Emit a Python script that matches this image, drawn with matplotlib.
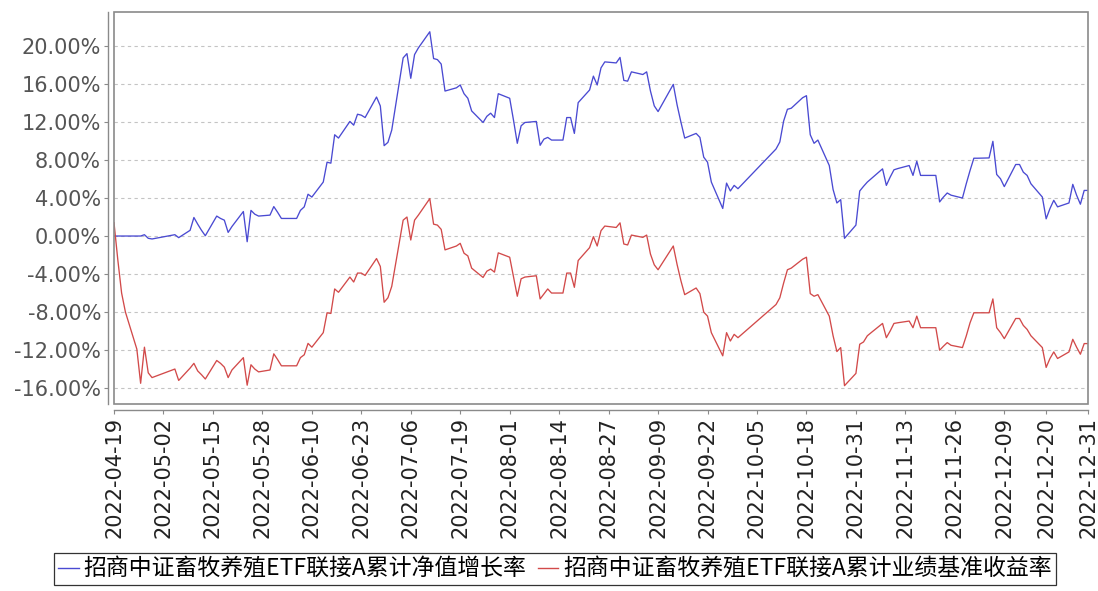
import matplotlib
matplotlib.use("Agg")
import matplotlib.pyplot as plt
from matplotlib.patches import Rectangle
from matplotlib.lines import Line2D
from matplotlib.font_manager import FontProperties
import pandas as pd

# ---- data ----
dates = [
    "2022-04-19", "2022-04-20", "2022-04-21", "2022-04-22", "2022-04-25", "2022-04-26",
    "2022-04-27", "2022-04-28", "2022-04-29", "2022-05-05", "2022-05-06", "2022-05-09",
    "2022-05-10", "2022-05-11", "2022-05-12", "2022-05-13", "2022-05-16", "2022-05-17",
    "2022-05-18", "2022-05-19", "2022-05-20", "2022-05-23", "2022-05-24", "2022-05-25",
    "2022-05-26", "2022-05-27", "2022-05-30", "2022-05-31", "2022-06-01", "2022-06-02",
    "2022-06-06", "2022-06-07", "2022-06-08", "2022-06-09", "2022-06-10", "2022-06-13",
    "2022-06-14", "2022-06-15", "2022-06-16", "2022-06-17", "2022-06-20", "2022-06-21",
    "2022-06-22", "2022-06-23", "2022-06-24", "2022-06-27", "2022-06-28", "2022-06-29",
    "2022-06-30", "2022-07-01", "2022-07-04", "2022-07-05", "2022-07-06", "2022-07-07",
    "2022-07-08", "2022-07-11", "2022-07-12", "2022-07-13", "2022-07-14", "2022-07-15",
    "2022-07-18", "2022-07-19", "2022-07-20", "2022-07-21", "2022-07-22", "2022-07-25",
    "2022-07-26", "2022-07-27", "2022-07-28", "2022-07-29", "2022-08-01", "2022-08-02",
    "2022-08-03", "2022-08-04", "2022-08-05", "2022-08-08", "2022-08-09", "2022-08-10",
    "2022-08-11", "2022-08-12", "2022-08-15", "2022-08-16", "2022-08-17", "2022-08-18",
    "2022-08-19", "2022-08-22", "2022-08-23", "2022-08-24", "2022-08-25", "2022-08-26",
    "2022-08-29", "2022-08-30", "2022-08-31", "2022-09-01", "2022-09-02", "2022-09-05",
    "2022-09-06", "2022-09-07", "2022-09-08", "2022-09-09", "2022-09-13", "2022-09-14",
    "2022-09-15", "2022-09-16", "2022-09-19", "2022-09-20", "2022-09-21", "2022-09-22",
    "2022-09-23", "2022-09-26", "2022-09-27", "2022-09-28", "2022-09-29", "2022-09-30",
    "2022-10-10", "2022-10-11", "2022-10-12", "2022-10-13", "2022-10-14", "2022-10-17",
    "2022-10-18", "2022-10-19", "2022-10-20", "2022-10-21", "2022-10-24", "2022-10-25",
    "2022-10-26", "2022-10-27", "2022-10-28", "2022-10-31", "2022-11-01", "2022-11-02",
    "2022-11-03", "2022-11-04", "2022-11-07", "2022-11-08", "2022-11-09", "2022-11-10",
    "2022-11-11", "2022-11-14", "2022-11-15", "2022-11-16", "2022-11-17", "2022-11-18",
    "2022-11-21", "2022-11-22", "2022-11-23", "2022-11-24", "2022-11-25", "2022-11-28",
    "2022-11-29", "2022-11-30", "2022-12-01", "2022-12-02", "2022-12-05", "2022-12-06",
    "2022-12-07", "2022-12-08", "2022-12-09", "2022-12-12", "2022-12-13", "2022-12-14",
    "2022-12-15", "2022-12-16", "2022-12-19", "2022-12-20", "2022-12-21", "2022-12-22",
    "2022-12-23", "2022-12-26", "2022-12-27", "2022-12-28", "2022-12-29", "2022-12-30",
    "2022-12-31",
]

nav_growth = [
    0.00, 0.00, 0.00, 0.00, 0.00, 0.00,
    0.14, -0.24, -0.31, 0.14, -0.17, 0.60,
    1.95, 1.25, 0.60, 0.03, 2.10, 1.85,
    1.67, 0.38, 1.00, 2.58, -0.60, 2.70,
    2.30, 2.10, 2.20, 3.10, 2.50, 1.85,
    1.85, 2.70, 3.07, 4.40, 4.10, 5.68,
    7.77, 7.67, 10.66, 10.31, 12.06, 11.67,
    12.82, 12.72, 12.47, 14.63, 13.69, 9.51,
    9.86, 11.15, 18.75, 19.20, 16.60, 19.10,
    19.80, 21.50, 18.68, 18.57, 18.10, 15.26,
    15.60, 15.90, 14.98, 14.50, 13.17, 11.95,
    12.60, 12.93, 12.47, 14.98, 14.50, 12.20,
    9.76, 11.60, 11.95, 12.06, 9.55, 10.20,
    10.38, 10.10, 10.10, 12.47, 12.47, 10.80,
    14.04, 15.37, 16.83, 15.90, 17.70, 18.33,
    18.22, 18.80, 16.38, 16.30, 17.28, 17.00,
    17.28, 15.26, 13.70, 13.10, 15.96, 13.80,
    12.00, 10.31, 10.80, 10.38, 8.30, 7.77,
    5.68, 2.90, 5.57, 4.74, 5.33, 4.98,
    9.16, 9.90, 12.10, 13.34, 13.45, 14.56,
    14.77, 10.66, 9.76, 10.10, 7.42, 4.90,
    3.48, 3.83, -0.24, 1.15, 4.74, 5.23,
    5.68, 6.03, 7.07, 5.33, 6.20, 6.97,
    7.10, 7.42, 6.38, 7.87, 6.38, 6.38,
    6.38, 3.59, 4.10, 4.53, 4.30, 4.00,
    5.50, 6.90, 8.19, 8.19, 8.22, 9.97,
    6.48, 6.03, 5.20, 7.53, 7.53, 6.72,
    6.38, 5.50, 4.10, 1.81, 2.89, 3.76,
    3.07, 3.48, 5.44, 4.30, 3.35, 4.80,
    4.80,
]

benchmark = [
    1.40, -2.50, -6.00, -8.00, -11.90, -15.50,
    -11.70, -14.40, -14.90, -14.00, -15.20, -13.90,
    -13.40, -14.20, -14.60, -15.05, -13.10, -13.40,
    -13.80, -14.90, -14.10, -12.80, -15.70, -13.55,
    -14.00, -14.30, -14.10, -12.40, -13.00, -13.66,
    -13.66, -12.80, -12.50, -11.30, -11.70, -10.17,
    -8.08, -8.15, -5.57, -5.92, -4.32, -4.84,
    -3.90, -3.90, -4.15, -2.37, -3.20, -6.97,
    -6.50, -5.30, 1.67, 2.00, -0.42, 1.67,
    2.20, 3.94, 1.25, 1.15, 0.70, -1.46,
    -1.05, -0.77, -1.81, -2.09, -3.38, -4.36,
    -3.70, -3.48, -3.80, -1.77, -2.23, -4.30,
    -6.34, -4.50, -4.32, -4.18, -6.62, -6.10,
    -5.57, -6.00, -6.00, -3.90, -3.90, -5.40,
    -2.58, -1.22, -0.07, -1.05, 0.56, 1.05,
    0.90, 1.39, -0.84, -0.94, 0.10, -0.14,
    0.10, -1.90, -3.03, -3.55, -1.05, -3.00,
    -4.70, -6.17, -5.47, -6.06, -8.01, -8.43,
    -10.17, -12.61, -10.17, -11.05, -10.35, -10.70,
    -7.21, -6.50, -4.95, -3.55, -3.38, -2.44,
    -2.23, -6.06, -6.34, -6.17, -8.43, -10.50,
    -12.16, -11.74, -15.75, -14.46, -11.39, -11.15,
    -10.50, -10.17, -9.20, -10.70, -10.00, -9.20,
    -9.13, -8.95, -9.65, -8.43, -9.65, -9.65,
    -9.65, -12.02, -11.60, -11.22, -11.50, -11.74,
    -10.52, -9.13, -8.08, -8.08, -8.08, -6.62,
    -9.65, -10.17, -10.80, -8.68, -8.68, -9.41,
    -9.83, -10.50, -11.74, -13.83, -12.89, -12.20,
    -12.89, -12.20, -10.87, -11.70, -12.44, -11.32,
    -11.32,
]

tick_dates = [
    "2022-04-19", "2022-05-02", "2022-05-15", "2022-05-28", "2022-06-10", "2022-06-23",
    "2022-07-06", "2022-07-19", "2022-08-01", "2022-08-14", "2022-08-27", "2022-09-09",
    "2022-09-22", "2022-10-05", "2022-10-18", "2022-10-31", "2022-11-13", "2022-11-26",
    "2022-12-09", "2022-12-20", "2022-12-31",
]
y_ticks = [-16, -12, -8, -4, 0, 4, 8, 12, 16, 20]
series_names = ["招商中证畜牧养殖ETF联接A累计净值增长率", "招商中证畜牧养殖ETF联接A累计业绩基准收益率"]
series_colors = ["#4a4ad2", "#d24a4a"]

# ---- figure ----
W, H = 1098, 591
fig = plt.figure(figsize=(W / 100, H / 100), dpi=100)
ax = fig.add_axes([114 / W, 1 - 404 / H, 974 / W, 392 / H])

x = pd.to_datetime(dates)
ax.plot(x, nav_growth, color=series_colors[0], lw=0.95, zorder=3)
ax.plot(x, benchmark, color=series_colors[1], lw=0.95, zorder=3)

ax.set_xlim(pd.Timestamp("2022-04-19"), pd.Timestamp("2022-12-31"))
ax.set_ylim(-17.68, 23.58)

ax.set_yticks(y_ticks)
ax.set_yticklabels([f"{v:.2f}%" for v in y_ticks])
ax.set_xticks(pd.to_datetime(tick_dates))
ax.set_xticklabels(tick_dates)

ax.yaxis.grid(True, color="#c4c4c4", linestyle=(0, (3, 3)), linewidth=0.8)
ax.xaxis.grid(False)
ax.set_axisbelow(True)

for s in ["top", "right"]:
    ax.spines[s].set_visible(False)
for s in ["left", "bottom"]:
    ax.spines[s].set_position(("outward", 4.3))
    ax.spines[s].set_color("#8a8a8a")
    ax.spines[s].set_linewidth(1.0)

ax.add_patch(Rectangle((0, 0), 1, 1, transform=ax.transAxes, fill=False,
                       edgecolor="#8a8a8a", linewidth=1.2, clip_on=False, zorder=4))

ax.tick_params(axis="y", direction="out", length=3, width=0.8, color="#8a8a8a",
               labelsize=15, labelcolor="#555555", pad=2)
ax.tick_params(axis="x", direction="out", length=3, width=0.8, color="#8a8a8a",
               labelsize=15, labelcolor="#222222", pad=2, labelrotation=90)

handles = [Line2D([], [], color=c, lw=1.0) for c in series_colors]
fp = FontProperties(family=["Noto Sans CJK SC", "DejaVu Sans"], size=16.5)
leg = fig.legend(handles, series_names, loc="upper center", ncol=2,
                 bbox_to_anchor=(555 / W, 1 - 553 / H), prop=fp, frameon=True,
                 fancybox=False, edgecolor="#333333", framealpha=1,
                 handlelength=0.9, handletextpad=0.2, columnspacing=0.5,
                 borderpad=0.2, borderaxespad=0)
leg.get_frame().set_linewidth(0.9)

fig.savefig("out.png", dpi=100)
